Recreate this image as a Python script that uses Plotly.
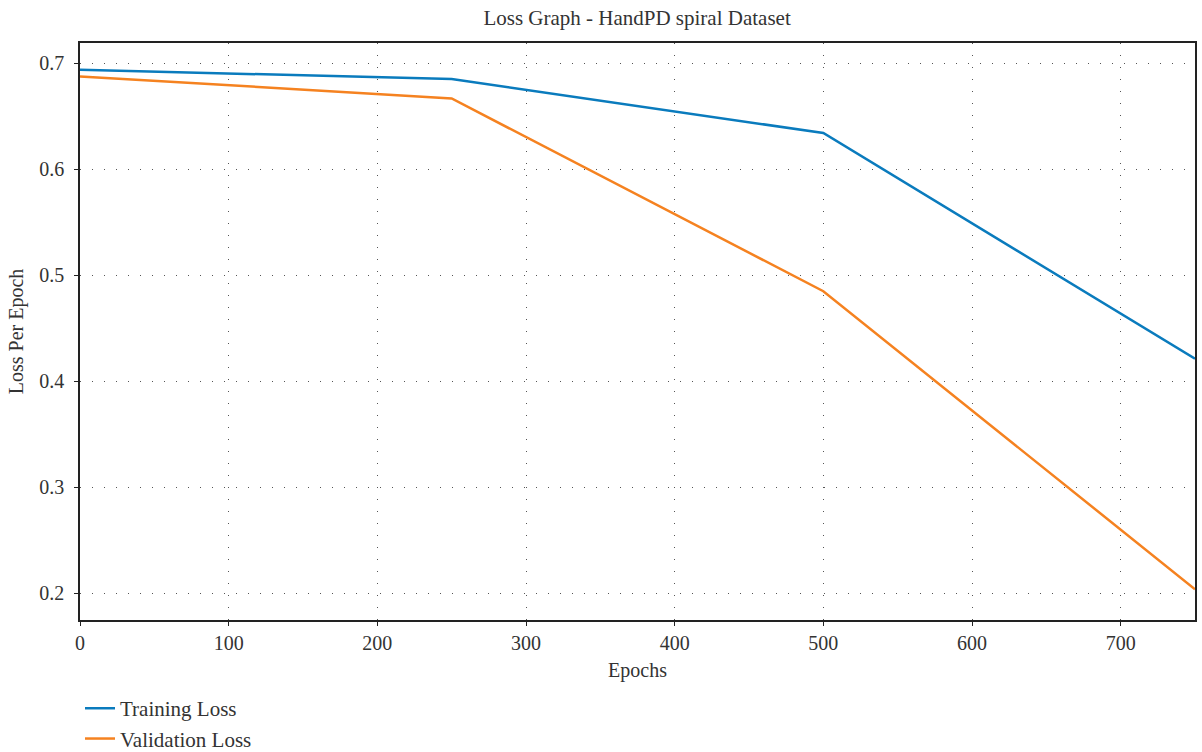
import plotly.graph_objects as go

epochs = [0, 250, 500, 750]
train_loss = [0.6937, 0.6849, 0.6340, 0.4212]
val_loss = [0.6874, 0.6666, 0.4848, 0.2038]

x_ticks = [0, 100, 200, 300, 400, 500, 600, 700]
y_ticks = [0.2, 0.3, 0.4, 0.5, 0.6, 0.7]

FONT = "Liberation Serif"
TXT = "#333333"

fig = go.Figure()
fig.add_trace(go.Scatter(x=epochs, y=train_loss, mode="lines", name="Training Loss",
                         line=dict(color="#0a7bbd", width=2.5)))
fig.add_trace(go.Scatter(x=epochs, y=val_loss, mode="lines", name="Validation Loss",
                         line=dict(color="#f58220", width=2.5)))

axis_common = dict(
    showline=True, linecolor="#222222", linewidth=1.5, mirror=True,
    ticks="outside", ticklen=4, tickcolor="#222222", tickwidth=1,
    showgrid=True, gridcolor="#555555", gridwidth=1, griddash="1px,11px",
    zeroline=False, automargin=False,
    tickfont=dict(family=FONT, size=20, color=TXT),
)

fig.update_xaxes(range=[0, 750], tickvals=x_ticks, ticklabelstandoff=0,
                 title=dict(text="Epochs", font=dict(family=FONT, size=20, color=TXT), standoff=10),
                 **axis_common)
fig.update_yaxes(range=[0.1748, 0.7189], tickvals=y_ticks, tickformat=".1f", ticklabelstandoff=6,
                 title=dict(text="Loss Per Epoch", font=dict(family=FONT, size=20, color=TXT), standoff=10),
                 **axis_common)

fig.update_layout(
    width=1202, height=752,
    margin=dict(l=80, r=7, t=43, b=132, autoexpand=False),
    paper_bgcolor="white", plot_bgcolor="white",
    title=dict(text="Loss Graph - HandPD spiral Dataset", x=0.53, xanchor="center",
               y=0.977, yanchor="middle", automargin=False,
               font=dict(family=FONT, size=21, color=TXT)),
    legend=dict(x=0.0, xanchor="left", y=-0.118, yanchor="top",
                orientation="v", font=dict(family=FONT, size=21, color=TXT),
                tracegroupgap=0, itemwidth=30, bgcolor="rgba(0,0,0,0)"),
    showlegend=True,
)

post = (
    "document.documentElement.style.overflow='hidden';"
    "document.body.style.margin='0px';"
    "document.body.style.padding='0px';"
    "document.body.style.overflow='hidden';"
)

fig.write_html("out.html", config={"displayModeBar": False}, post_script=post)
